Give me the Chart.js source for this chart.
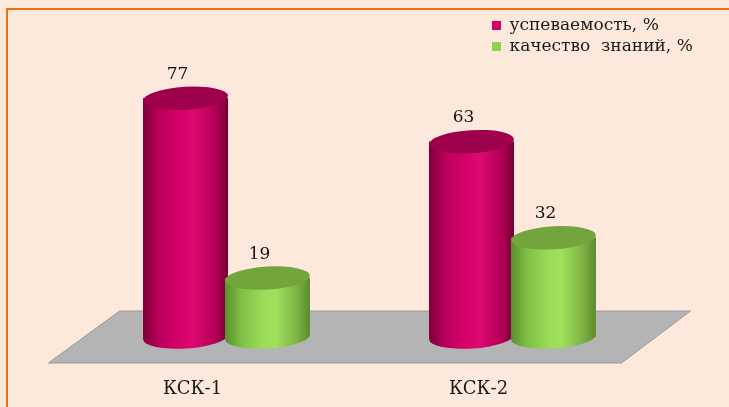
<!DOCTYPE html>
<html>
<head>
<meta charset="utf-8">
<script src="https://cdn.jsdelivr.net/npm/chart.js@4/dist/chart.umd.min.js"></script>
<style>
  html, body { margin: 0; padding: 0; background: #fde9db; }
  #wrap { position: relative; width: 729px; height: 407px; overflow: hidden; background: #fde9db; }
  #frame { position: absolute; left: 6px; top: 8px; width: 800px; height: 500px;
           border-top: 2.5px solid #ea7216; border-left: 2.5px solid #ea7216; }
  canvas { position: absolute; left: 0; top: 0; }
</style>
</head>
<body>
<div id="wrap">
  <div id="frame"></div>
  <canvas id="c" width="729" height="407"></canvas>
</div>
<script>
const categories = ["КСК-1", "КСК-2"];
const seriesNames = ["успеваемость, %", "качество  знаний, %"];
const uspevaemost = [77, 63];
const kachestvo = [19, 32];

const palettes = [
  { stops: ["#7d003b", "#b8005a", "#d9006c", "#dc0a70", "#b40057", "#720035"], top: "#9e004c", legend: "#d4006a" },
  { stops: ["#5a8e2a", "#7fbd45", "#9ddc58", "#a0e05c", "#7cb243", "#5a8a2b"], top: "#72a63c", legend: "#92d050" }
];

const cylinders = {
  id: 'cylinders',
  beforeDatasetsDraw(chart) {
    const ctx = chart.ctx, a = chart.chartArea;
    ctx.save();
    ctx.beginPath();
    ctx.moveTo(a.left - 35, a.bottom + 26);
    ctx.lineTo(a.left + 36, a.bottom - 26);
    ctx.lineTo(a.right + 35, a.bottom - 26);
    ctx.lineTo(a.right - 34, a.bottom + 26);
    ctx.closePath();
    ctx.fillStyle = "#b4b4b4";
    ctx.fill();
    ctx.strokeStyle = "#9a9a9a";
    ctx.lineWidth = 1;
    ctx.stroke();
    ctx.restore();
  },
  afterDatasetsDraw(chart) {
    const ctx = chart.ctx;
    const n = chart.data.labels.length;
    for (let i = 0; i < n; i++) {
      chart.data.datasets.forEach((ds, di) => {
        const el = chart.getDatasetMeta(di).data[i];
        const p = palettes[di];
        const cx = el.x, w = el.width, rx = w / 2, ry = 11.5, top = el.y, base = el.base;
        const rot = -0.06;
        ctx.save();
        const g = ctx.createLinearGradient(cx - rx, 0, cx + rx, 0);
        const pos = [0, 0.18, 0.45, 0.6, 0.85, 1];
        p.stops.forEach((c, k) => g.addColorStop(pos[k], c));
        ctx.beginPath();
        ctx.moveTo(cx - rx, top);
        ctx.lineTo(cx - rx, base);
        ctx.ellipse(cx, base, rx, ry, rot, Math.PI, 0, true);
        ctx.lineTo(cx + rx, top);
        ctx.closePath();
        ctx.fillStyle = g;
        ctx.fill();
        ctx.beginPath();
        ctx.ellipse(cx, top, rx, ry, rot, 0, Math.PI * 2);
        ctx.fillStyle = p.top;
        ctx.fill();
        ctx.fillStyle = "#111";
        ctx.font = "17px 'DejaVu Serif'";
        ctx.textAlign = "center";
        ctx.textBaseline = "middle";
        ctx.fillText(String(ds.data[i]), cx - 8, top - 24);
        ctx.restore();
      });
    }
  }
};

const moveLegend = {
  id: 'moveLegend',
  afterLayout(chart) {
    const l = chart.legend;
    const w = l.width, h = 60;
    l.left = 488; l.top = 13; l.right = l.left + w; l.bottom = l.top + h;
    l.height = h;
  }
};

new Chart(document.getElementById('c'), {
  type: 'bar',
  data: {
    labels: categories,
    datasets: [
      { label: seriesNames[0], data: uspevaemost, backgroundColor: palettes[0].legend, borderWidth: 0 },
      { label: seriesNames[1], data: kachestvo, backgroundColor: palettes[1].legend, borderWidth: 0 }
    ]
  },
  options: {
    responsive: false,
    animation: false,
    events: [],
    layout: { padding: { left: 83.5, right: 73.5, top: 27, bottom: 0 } },
    datasets: { bar: { categoryPercentage: 0.573, barPercentage: 1.037 } },
    elements: { bar: { backgroundColor: 'rgba(0,0,0,0)' } },
    plugins: {
      legend: {
        position: 'chartArea',
        align: 'start',
        labels: {
          boxWidth: 9, boxHeight: 9, padding: 4,
          color: "#1a1a1a",
          font: { family: "'DejaVu Serif'", size: 17 },
          generateLabels(chart) {
            return chart.data.datasets.map((ds, i) => ({
              text: ds.label, fillStyle: palettes[i].legend, strokeStyle: palettes[i].legend,
              lineWidth: 0, hidden: false, datasetIndex: i, fontColor: "#1a1a1a"
            }));
          }
        }
      },
      tooltip: { enabled: false }
    },
    scales: {
      x: {
        grid: { display: false, drawTicks: false },
        border: { display: false },
        ticks: { padding: 42, labelOffset: -34, color: "#1a1a1a", font: { family: "'DejaVu Serif'", size: 18 } },
        afterFit(scale) { scale.height = 70; }
      },
      y: {
        display: false,
        min: 0, max: 100
      }
    }
  },
  plugins: [cylinders, moveLegend]
});
</script>
</body>
</html>
